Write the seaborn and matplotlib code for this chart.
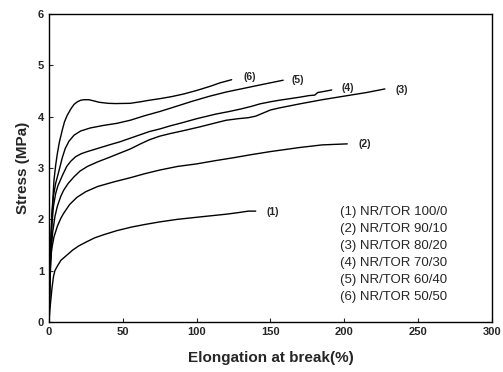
import pandas as pd
import numpy as np
import matplotlib
matplotlib.use("Agg")
import matplotlib.pyplot as plt
import seaborn as sns

# curves (elongation %, stress MPa)
x1 = [0, 0.5, 1, 2, 3, 4, 5.5, 8, 12, 16, 20, 26, 31, 37, 46, 56, 65, 75, 87, 100, 110, 120, 128, 135, 140]
y1 = [0, 0.2, 0.36, 0.65, 0.88, 1.0, 1.08, 1.2, 1.3, 1.4, 1.48, 1.57, 1.64, 1.7, 1.78, 1.85, 1.9, 1.95, 2.0,
      2.04, 2.07, 2.1, 2.13, 2.16, 2.16]

x2 = [0, 0.5, 1, 2, 3.4, 5.6, 8, 10, 14, 19, 25, 33, 44, 55, 65, 75, 87, 100, 112, 125, 137, 150, 160, 170, 185, 202]
y2 = [0, 0.7, 1.2, 1.45, 1.66, 1.86, 2.02, 2.12, 2.29, 2.43, 2.54, 2.64, 2.73, 2.81, 2.89, 2.96, 3.03, 3.08,
      3.14, 3.2, 3.26, 3.32, 3.36, 3.4, 3.45, 3.47]

x3 = [0, 0.5, 1, 1.8, 2.5, 4, 5.6, 8, 10, 13, 17, 21, 26, 33, 42, 48, 55, 62, 68, 75, 82, 90, 102, 113, 120, 128,
      135, 140, 145, 150, 156, 170, 185, 200, 215, 227.5]
y3 = [0, 0.6, 1.0, 1.5, 1.75, 2.05, 2.25, 2.45, 2.57, 2.7, 2.83, 2.94, 3.03, 3.12, 3.22, 3.29, 3.37, 3.47, 3.55,
      3.62, 3.67, 3.72, 3.8, 3.88, 3.93, 3.96, 3.98, 4.01, 4.07, 4.13, 4.17, 4.25, 4.33, 4.4, 4.47, 4.54]

x4 = [0, 0.5, 1, 2, 3, 4.5, 6, 9, 12, 14.7, 18, 22, 26, 34, 42, 48, 55, 62, 68, 75, 82, 90, 100, 113, 122, 130,
      137, 143, 150, 156, 163, 170, 176, 180, 182, 186, 191.5]
y4 = [0, 0.8, 1.3, 1.9, 2.25, 2.5, 2.65, 2.85, 3.03, 3.13, 3.22, 3.28, 3.32, 3.39, 3.46, 3.51, 3.58, 3.65, 3.71,
      3.76, 3.82, 3.88, 3.96, 4.05, 4.1, 4.15, 4.2, 4.25, 4.29, 4.32, 4.35, 4.38, 4.41, 4.42, 4.47, 4.49, 4.52]

x5 = [0, 0.5, 1, 2, 3, 4.5, 6.8, 9, 11, 13.5, 17, 21.4, 28, 37, 46, 55, 65, 75, 85, 97, 109, 120, 130, 145, 158.6]
y5 = [0, 0.9, 1.5, 2.1, 2.45, 2.7, 2.95, 3.2, 3.38, 3.52, 3.64, 3.72, 3.78, 3.83, 3.87, 3.93, 4.02, 4.1, 4.19,
      4.3, 4.4, 4.48, 4.54, 4.63, 4.71]

x6 = [0, 0.5, 1, 2, 3.4, 4.5, 5.6, 7, 9, 10.5, 12.4, 15, 17, 19.2, 21.5, 23.7, 27, 30, 34, 40, 45, 55, 62, 68, 75,
      83, 91, 100, 109, 116, 123.7]
y6 = [0, 0.7, 1.2, 2.1, 2.77, 3.05, 3.27, 3.5, 3.74, 3.9, 4.03, 4.16, 4.24, 4.29, 4.32, 4.33, 4.33, 4.31, 4.28,
      4.26, 4.255, 4.26, 4.29, 4.32, 4.35, 4.39, 4.44, 4.51, 4.59, 4.66, 4.72]

curve_tags = ["(1)", "(2)", "(3)", "(4)", "(5)", "(6)"]
legend_lines = ["(1) NR/TOR 100/0", "(2) NR/TOR 90/10", "(3) NR/TOR 80/20",
                "(4) NR/TOR 70/30", "(5) NR/TOR 60/40", "(6) NR/TOR 50/50"]

frames = []
for tag, xs, ys in zip(curve_tags, [x1, x2, x3, x4, x5, x6], [y1, y2, y3, y4, y5, y6]):
    frames.append(pd.DataFrame({"elong": xs, "stress": ys, "curve": tag}))
df = pd.concat(frames, ignore_index=True)

sns.set_style("ticks")
plt.rcParams["font.family"] = ["Liberation Sans", "DejaVu Sans"]

fig = plt.figure(figsize=(5.03, 3.72), dpi=100)
ax = fig.add_axes([0.0974, 0.1344, 0.8806, 0.828])

sns.lineplot(data=df, x="elong", y="stress", units="curve", estimator=None,
             sort=False, color="black", linewidth=1.0, ax=ax)

# curve tags at the ends
tag_pos = {"(1)": (151.7, 2.14), "(2)": (214, 3.47), "(3)": (239, 4.52),
           "(4)": (202.4, 4.56), "(5)": (168.6, 4.72), "(6)": (136, 4.77)}
for tag in curve_tags:
    tx, ty = tag_pos[tag]
    ax.text(tx, ty, tag, fontsize=7.5, fontweight="bold", ha="center", va="center")

for i, line in enumerate(legend_lines):
    ax.text(197, 2.14 - i * 0.33, line, fontsize=9.5, ha="left", va="center")

ax.set_xlim(0, 300)
ax.set_ylim(0, 6)
ax.set_xticks([0, 50, 100, 150, 200, 250, 300])
ax.set_yticks([0, 1, 2, 3, 4, 5, 6])
ax.tick_params(direction="in", length=3, width=0.8, labelsize=8)
for lab in ax.get_xticklabels() + ax.get_yticklabels():
    lab.set_fontweight("bold")
for sp in ax.spines.values():
    sp.set_linewidth(1.0)
    sp.set_color("black")

ax.set_xlabel("Elongation at break(%)", fontsize=11, fontweight="bold", labelpad=10)
ax.set_ylabel("Stress (MPa)", fontsize=11, fontweight="bold", labelpad=6)

fig.savefig("out.png", dpi=100)
